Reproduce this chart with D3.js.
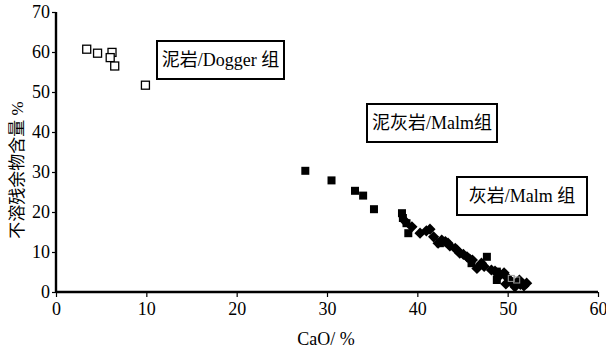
<!DOCTYPE html>
<html><head><meta charset="utf-8">
<script src="https://cdn.jsdelivr.net/npm/d3@7"></script>
<style>
body{margin:0;background:#fff;}
text{font-family:"Liberation Serif","Noto Sans CJK SC",serif;fill:#000;}
</style></head>
<body><svg id="c" width="606" height="353"></svg>
<script>
// Data
const xTicks = [0,10,20,30,40,50,60];
const yTicks = [0,10,20,30,40,50,60,70];
const doggerCaO   = [3.4,4.6,6.2,6.0,6.5,9.9];
const doggerInsol = [60.7,59.7,59.9,58.6,56.5,51.7];
const marlCaO   = [27.6,30.5,33.1,34.0,35.2,38.3,38.4,38.8,39.0,42.5,46.0,47.7,48.8,48.8];
const marlInsol = [30.3,27.9,25.3,24.1,20.7,19.7,18.5,17.2,14.7,12.2,7.2,8.8,5.1,3.0];
const limeCaO   = [38.6,39.4,40.3,41.0,41.4,41.8,42.3,42.7,43.1,43.4,43.6,44.2,44.4,44.7,45.1,45.5,45.8,46.1,46.6,47.1,47.4,48.2,48.6,49.2,49.6,50.0,50.3,50.6,51.0,51.4,51.8,52.1,50.8,49.8,51.3];
const limeInsol = [17.8,16.3,14.7,15.3,15.7,13.8,12.2,13.0,12.6,12.2,11.5,10.9,10.5,9.7,9.4,8.8,8.2,8.0,5.9,7.2,6.4,5.5,5.2,4.3,4.8,3.5,2.8,2.2,2.2,1.9,1.5,2.2,1.3,2.0,3.0];
const extraOpenCaO   = [50.4,51.0];
const extraOpenInsol = [3.4,3.0];
const labels = ["泥岩/Dogger 组","泥灰岩/Malm组","灰岩/Malm 组"];

const svg = d3.select("#c");
const x = d3.scaleLinear().domain([0,60]).range([56,598]);
const y = d3.scaleLinear().domain([0,70]).range([292,12]);

// axes
const xa = svg.append("g").attr("transform","translate(0,292)")
  .call(d3.axisBottom(x).tickValues(xTicks).tickSize(5).tickPadding(5));
xa.select(".domain").attr("stroke","#000").attr("stroke-width",2.4);
xa.selectAll(".tick line").attr("stroke-width",1.2);
xa.selectAll("text").attr("font-size",18).attr("font-family","Liberation Serif");

const ya = svg.append("g").attr("transform","translate(56,0)")
  .call(d3.axisLeft(y).tickValues(yTicks).tickSize(4).tickPadding(2));
ya.select(".domain").attr("stroke","#000").attr("stroke-width",2.4);
ya.selectAll(".tick line").attr("stroke-width",1.2);
ya.selectAll("text").attr("font-size",18).attr("font-family","Liberation Serif");
ya.selectAll(".domain").attr("d", `M0,${y(70)}V${y(0)}`);
xa.selectAll(".domain").attr("d", `M${x(0)},0H${x(60)}`);

// titles
svg.append("text").attr("x",326).attr("y",345).attr("text-anchor","middle")
  .attr("font-size",18).text("CaO/ %");
svg.append("text").attr("transform","translate(23,170) rotate(-90)")
  .attr("text-anchor","middle").attr("font-size",17)
  .attr("font-family","Noto Sans CJK SC").text("不溶残余物含量 %");

const s = 8;
// marl filled squares
svg.append("g").selectAll("rect").data(d3.range(marlCaO.length)).join("rect")
  .attr("x",i=>x(marlCaO[i])-s/2).attr("y",i=>y(marlInsol[i])-s/2)
  .attr("width",s).attr("height",s).attr("fill","#000");
// limestone filled diamonds
svg.append("g").selectAll("path").data(d3.range(limeCaO.length)).join("path")
  .attr("transform",i=>`translate(${x(limeCaO[i])},${y(limeInsol[i])})`)
  .attr("d",d3.symbol(d3.symbolDiamond2,80)).attr("fill","#000");
// dogger open squares
svg.append("g").selectAll("rect").data(d3.range(doggerCaO.length)).join("rect")
  .attr("x",i=>x(doggerCaO[i])-4).attr("y",i=>y(doggerInsol[i])-4)
  .attr("width",8).attr("height",8).attr("fill","#fff").attr("stroke","#000").attr("stroke-width",1.3);
svg.append("g").selectAll("rect").data(d3.range(extraOpenCaO.length)).join("rect")
  .attr("x",i=>x(extraOpenCaO[i])-3).attr("y",i=>y(extraOpenInsol[i])-3)
  .attr("width",6).attr("height",6).attr("fill","none").attr("stroke","#999").attr("stroke-width",1);

// label boxes
const boxes = [[157,41,127,38],[367,104,130,38],[457,177,130,38]];
boxes.forEach((b,i)=>{
  svg.append("rect").attr("x",b[0]).attr("y",b[1]).attr("width",b[2]).attr("height",b[3])
    .attr("fill","#fff").attr("stroke","#000").attr("stroke-width",2);
  svg.append("text").attr("x",b[0]+b[2]/2).attr("y",b[1]+b[3]/2+6).attr("text-anchor","middle")
    .attr("font-size",18).text(labels[i]);
});
</script></body></html>
